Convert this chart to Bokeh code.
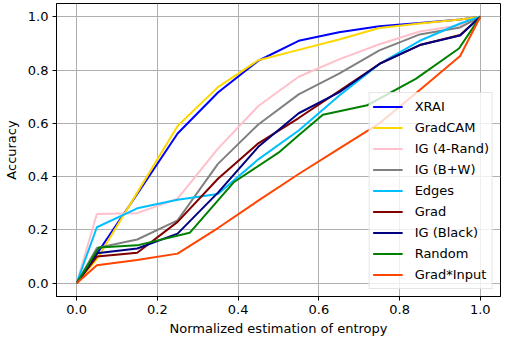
from bokeh.plotting import figure
from bokeh.models import FixedTicker, Range1d
from bokeh.embed import file_html
from bokeh.resources import INLINE

# ---- data ----
names = ["XRAI", "GradCAM", "IG (4-Rand)", "IG (B+W)", "Edges", "Grad",
         "IG (Black)", "Random", "Grad*Input"]
colors = ["#0000ff", "#ffd700", "#ffc0cb", "#808080", "#00bfff", "#800000",
          "#000080", "#008000", "#ff4500"]

x_xrai = [0, 0.05, 0.15, 0.25, 0.35, 0.45, 0.55, 0.65, 0.75, 0.85, 0.95, 1.0]
y_xrai = [0, 0.11, 0.335, 0.562, 0.716, 0.835, 0.91, 0.942, 0.965, 0.977, 0.99, 1.0]

x_gradcam = [0, 0.05, 0.15, 0.25, 0.35, 0.45, 0.55, 0.65, 0.75, 0.85, 0.95, 1.0]
y_gradcam = [0, 0.09, 0.34, 0.59, 0.736, 0.837, 0.876, 0.915, 0.958, 0.975, 0.99, 1.0]

x_ig4 = [0, 0.05, 0.15, 0.25, 0.35, 0.45, 0.55, 0.65, 0.75, 0.85, 0.95, 1.0]
y_ig4 = [0, 0.26, 0.263, 0.317, 0.505, 0.665, 0.775, 0.84, 0.897, 0.945, 0.968, 1.0]

x_igbw = [0, 0.05, 0.15, 0.25, 0.35, 0.45, 0.55, 0.65, 0.75, 0.85, 0.95, 1.0]
y_igbw = [0, 0.132, 0.164, 0.236, 0.448, 0.596, 0.709, 0.787, 0.874, 0.934, 0.96, 1.0]

x_edges = [0, 0.05, 0.15, 0.25, 0.35, 0.45, 0.55, 0.65, 0.75, 0.85, 0.95, 1.0]
y_edges = [0, 0.21, 0.281, 0.313, 0.335, 0.465, 0.573, 0.704, 0.823, 0.91, 0.975, 1.0]

x_grad = [0, 0.05, 0.15, 0.25, 0.35, 0.45, 0.55, 0.65, 0.75, 0.85, 0.95, 1.0]
y_grad = [0, 0.1, 0.114, 0.23, 0.392, 0.525, 0.62, 0.721, 0.823, 0.894, 0.932, 1.0]

x_igblack = [0, 0.05, 0.15, 0.25, 0.35, 0.45, 0.55, 0.65, 0.75, 0.85, 0.95, 1.0]
y_igblack = [0, 0.112, 0.13, 0.186, 0.34, 0.512, 0.638, 0.716, 0.823, 0.894, 0.93, 1.0]

x_random = [0, 0.055, 0.15, 0.28, 0.39, 0.5, 0.55, 0.61, 0.72, 0.84, 0.947, 1.0]
y_random = [0, 0.134, 0.142, 0.189, 0.38, 0.49, 0.555, 0.632, 0.668, 0.767, 0.881, 1.0]

x_gradinput = [0, 0.05, 0.15, 0.25, 0.35, 0.45, 0.55, 0.65, 0.75, 0.85, 0.95, 1.0]
y_gradinput = [0, 0.067, 0.087, 0.111, 0.207, 0.31, 0.41, 0.505, 0.6, 0.725, 0.853, 1.0]

xs = [x_xrai, x_gradcam, x_ig4, x_igbw, x_edges, x_grad, x_igblack, x_random, x_gradinput]
ys = [y_xrai, y_gradcam, y_ig4, y_igbw, y_edges, y_grad, y_igblack, y_random, y_gradinput]

tick_vals = [0.0, 0.2, 0.4, 0.6, 0.8, 1.0]
tick_labels = ["0.0", "0.2", "0.4", "0.6", "0.8", "1.0"]

x_label = "Normalized estimation of entropy"
y_label = "Accuracy"

# ---- figure ----
FONT = "DejaVu Sans"
p = figure(width=503, height=338, output_backend="svg", toolbar_location=None,
           x_range=Range1d(-0.05, 1.05), y_range=Range1d(-0.05, 1.05))
p.min_border_left = 43
p.min_border_right = 3
p.min_border_top = 3
p.min_border_bottom = 40
p.background_fill_color = "white"
p.border_fill_color = "white"
p.outline_line_color = "black"
p.outline_line_width = 1
p.outline_line_alpha = 1

for xv, yv, nm, c in zip(xs, ys, names, colors):
    p.line(xv, yv, line_color=c, line_width=2, legend_label=nm)

for ax in (p.xaxis, p.yaxis):
    ax.ticker = FixedTicker(ticks=tick_vals)
    ax.major_label_overrides = {v: l for v, l in zip(tick_vals, tick_labels)}
    ax.major_label_text_font = FONT
    ax.major_label_text_font_size = "13px"
    ax.major_label_text_color = "black"
    ax.axis_label_text_font = FONT
    ax.axis_label_text_font_size = "13px"
    ax.axis_label_text_font_style = "normal"
    ax.axis_label_text_color = "black"
    ax.axis_line_color = "black"
    ax.major_tick_line_color = "black"
    ax.major_tick_out = 4
    ax.major_tick_in = 0
    ax.minor_tick_line_color = None

p.xaxis.axis_label = x_label
p.yaxis.axis_label = y_label
p.xaxis.axis_label_standoff = 4
p.yaxis.axis_label_standoff = 6
p.xaxis.major_label_standoff = 4
p.yaxis.major_label_standoff = 4

for g in (p.xgrid, p.ygrid):
    g.grid_line_color = "#b0b0b0"
    g.grid_line_width = 1
    g.grid_line_alpha = 1

leg = p.legend[0]
leg.location = "bottom_right"
leg.margin = 7
leg.padding = 3
leg.spacing = 0
leg.glyph_width = 30
leg.glyph_height = 21
leg.label_height = 21
leg.label_standoff = 12
leg.label_text_font = FONT
leg.label_text_font_size = "13px"
leg.label_text_color = "black"
leg.border_line_color = "#cccccc"
leg.border_line_width = 1
leg.background_fill_color = "white"
leg.background_fill_alpha = 0.8

open("out.html", "w").write(file_html(p, INLINE))
